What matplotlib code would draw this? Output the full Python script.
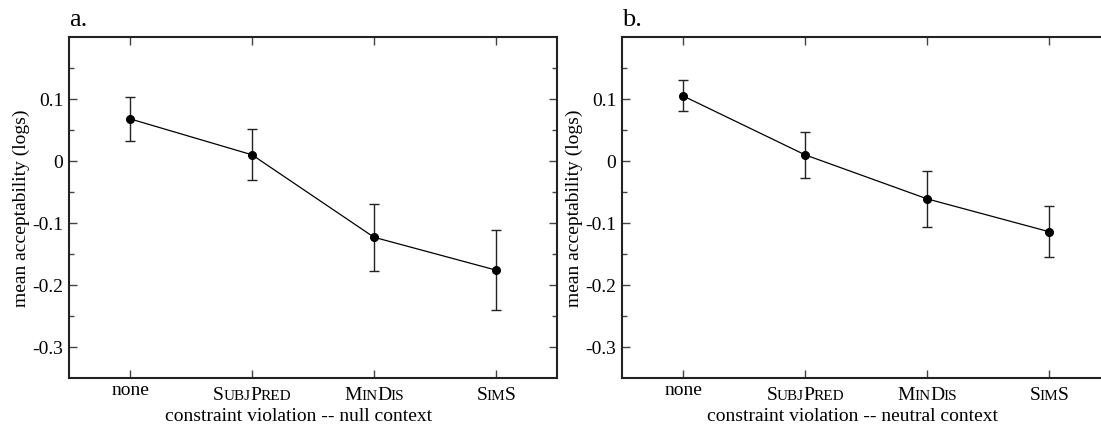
import numpy as np
import matplotlib.pyplot as plt
from matplotlib.transforms import IdentityTransform

plt.rcParams['font.family'] = ['Liberation Serif', 'DejaVu Serif']

# data
categories = ['none', 'SubjPred', 'MinDis', 'SimS']
# small-caps pieces for the tick labels: (text, full size?)
cat_pieces = [
    [('none', True)],
    [('S', True), ('UBJ', False), ('P', True), ('RED', False)],
    [('M', True), ('IN', False), ('D', True), ('IS', False)],
    [('S', True), ('IM', False), ('S', True)],
]
null_mean = [0.068, 0.010, -0.123, -0.176]
null_lo = [0.033, -0.031, -0.177, -0.240]
null_hi = [0.104, 0.051, -0.069, -0.111]
neutral_mean = [0.105, 0.010, -0.061, -0.114]
neutral_lo = [0.080, -0.028, -0.106, -0.155]
neutral_hi = [0.131, 0.047, -0.016, -0.073]
yticks = [-0.3, -0.2, -0.1, 0.0, 0.1]
yticklabels = ['-0.3', '-0.2', '-0.1', '0', '0.1']
yminor = [-0.25, -0.15, -0.05, 0.05, 0.15]

W, H = 1101, 431
FS = 14
fig = plt.figure(figsize=(W / 100, H / 100), dpi=100)
ax_a = fig.add_axes([69 / W, 1 - 379 / H, 488 / W, 341 / H])
ax_b = fig.add_axes([622 / W, 1 - 379 / H, 488 / W, 341 / H])

panels = [
    (ax_a, 'a.', null_mean, null_lo, null_hi, 'constraint violation -- null context'),
    (ax_b, 'b.', neutral_mean, neutral_lo, neutral_hi, 'constraint violation -- neutral context'),
]

x = np.arange(1, len(categories) + 1)
for ax, tag, m, lo, hi, xlab in panels:
    m = np.array(m); lo = np.array(lo); hi = np.array(hi)
    ax.errorbar(x, m, yerr=[m - lo, hi - m], color='black', lw=0.9,
                elinewidth=1.0, ecolor='#222222', capsize=3.3, capthick=1.0,
                marker='o', ms=5.5, mfc='black', mec='black')
    ax.set_xlim(0.5, 4.5)
    ax.set_ylim(-0.35, 0.2)
    ax.set_xticks(x)
    ax.set_xticklabels([])
    ax.set_yticks(yticks)
    ax.set_yticklabels(yticklabels)
    ax.set_yticks(yminor, minor=True)
    ax.tick_params(which='both', direction='in', top=True, right=True,
                   width=1.0, color='#444444', labelsize=FS, pad=4)
    ax.tick_params(which='major', length=6)
    ax.tick_params(which='minor', length=3.5)
    for s in ax.spines.values():
        s.set_linewidth(1.5)
        s.set_color('#222222')
    ax.set_ylabel('mean acceptability (logs)', fontsize=FS, labelpad=2)
    ax.text(0.0, 1.035, tag, transform=ax.transAxes, fontsize=19, ha='left', va='baseline')
    bb = ax.get_position()
    xc = (bb.x0 + 488 / W / 2) * W - 14
    fig.text(xc / W, 1 - 421 / H, xlab, fontsize=FS, ha='center', va='baseline')

# small-caps category labels built from pieces
fig.canvas.draw()
renderer = fig.canvas.get_renderer()
for ax, *_ in panels:
    for i, pieces in enumerate(cat_pieces):
        texts = []
        for s, big in pieces:
            t = fig.text(0, 0, s, fontsize=FS if big else 11, ha='left', va='baseline',
                         transform=IdentityTransform())
            texts.append(t)
        widths = [t.get_window_extent(renderer).width - 0.5 for t in texts]
        total = sum(widths)
        xd = ax.transData.transform((x[i], 0))[0]
        ybase = H - (395 if i == 0 else 400)
        cur = xd - total / 2
        for t, w in zip(texts, widths):
            t.set_position((cur, ybase))
            cur += w

fig.savefig('out.png', dpi=100)
